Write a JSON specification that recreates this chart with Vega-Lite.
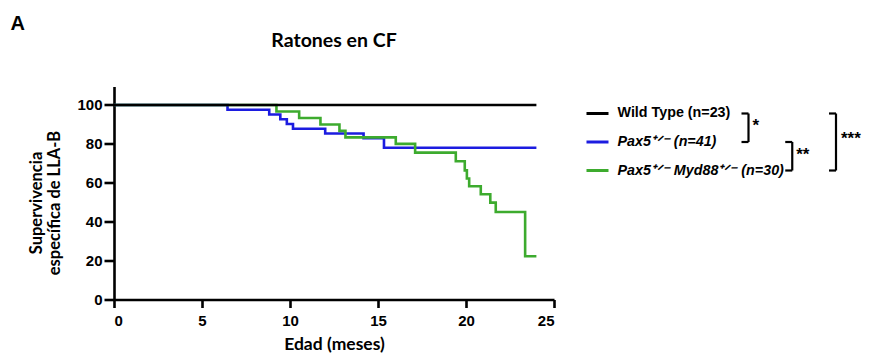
{
  "$schema": "https://vega.github.io/schema/vega-lite/v6.json",
  "background": "white",
  "padding": {"left": 10, "top": 13.5, "right": 0, "bottom": 0},
  "title": {"text": "A", "anchor": "start", "font": "Liberation Sans", "fontSize": 20, "fontWeight": "bold", "color": "black", "dx": -18, "offset": -3},
  "datasets": {
    "survival": [
      {"group": "Pax5", "t": 0, "s": 100},
      {"group": "Pax5", "t": 6.45, "s": 97.56},
      {"group": "Pax5", "t": 8.82, "s": 95.12},
      {"group": "Pax5", "t": 9.45, "s": 92.68},
      {"group": "Pax5", "t": 9.82, "s": 90.24},
      {"group": "Pax5", "t": 10.17, "s": 87.8},
      {"group": "Pax5", "t": 12.0, "s": 85.37},
      {"group": "Pax5", "t": 14.18, "s": 82.93},
      {"group": "Pax5", "t": 15.34, "s": 78.05},
      {"group": "Pax5", "t": 24, "s": 78.05},
      {"group": "Pax5 Myd88", "t": 0, "s": 100},
      {"group": "Pax5 Myd88", "t": 9.23, "s": 96.67},
      {"group": "Pax5 Myd88", "t": 10.52, "s": 93.33},
      {"group": "Pax5 Myd88", "t": 11.73, "s": 90},
      {"group": "Pax5 Myd88", "t": 12.81, "s": 86.67},
      {"group": "Pax5 Myd88", "t": 13.15, "s": 83.33},
      {"group": "Pax5 Myd88", "t": 16.01, "s": 80},
      {"group": "Pax5 Myd88", "t": 17.11, "s": 75.5},
      {"group": "Pax5 Myd88", "t": 19.42, "s": 71.1},
      {"group": "Pax5 Myd88", "t": 19.93, "s": 66.4},
      {"group": "Pax5 Myd88", "t": 20.05, "s": 62.2},
      {"group": "Pax5 Myd88", "t": 20.18, "s": 58.2},
      {"group": "Pax5 Myd88", "t": 20.84, "s": 54.1},
      {"group": "Pax5 Myd88", "t": 21.38, "s": 49.8},
      {"group": "Pax5 Myd88", "t": 21.69, "s": 45.0},
      {"group": "Pax5 Myd88", "t": 23.36, "s": 22.2},
      {"group": "Pax5 Myd88", "t": 24, "s": 22.2},
      {"group": "Wild Type", "t": 0, "s": 100},
      {"group": "Wild Type", "t": 24, "s": 100}
    ],
    "groups": [
      {"group": "Wild Type", "label": "Wild Type (n=23)"},
      {"group": "Pax5", "label": "Pax5⁺ᐟ⁻ (n=41)"},
      {"group": "Pax5 Myd88", "label": " Pax5⁺ᐟ⁻ Myd88⁺ᐟ⁻ (n=30)"}
    ],
    "comparisons": [
      {"g1": "Wild Type", "g2": "Pax5", "level": 1, "sig": "*"},
      {"g1": "Pax5", "g2": "Pax5 Myd88", "level": 2, "sig": "**"},
      {"g1": "Wild Type", "g2": "Pax5 Myd88", "level": 3, "sig": "***"}
    ]
  },
  "spacing": 10,
  "bounds": "flush",
  "hconcat": [
    {
      "width": 440,
      "height": 213,
      "title": {"text": "Ratones en CF", "font": "Lato", "fontSize": 19.5, "fontWeight": "bold", "color": "black", "offset": 35},
      "data": {"name": "survival"},
      "mark": {"type": "line", "interpolate": "step-after", "strokeWidth": 2.6},
      "encoding": {
        "x": {
          "field": "t", "type": "quantitative",
          "scale": {"domain": [0, 25], "nice": false, "zero": true},
          "axis": {
            "values": [0, 5, 10, 15, 20, 25], "grid": false,
            "domainColor": "black", "domainWidth": 2.6, "tickColor": "black", "tickWidth": 2.6, "tickSize": 8,
            "labelFont": "Liberation Sans", "labelFontWeight": "bold", "labelFontSize": 15, "labelColor": "black", "labelPadding": 6,
            "title": "Edad (meses)", "titleFont": "Lato", "titleFontSize": 17.5, "titleFontWeight": "bold", "titleColor": "black", "titlePadding": 7
          }
        },
        "y": {
          "field": "s", "type": "quantitative",
          "scale": {"domain": [0, 109.5], "nice": false},
          "axis": {
            "values": [0, 20, 40, 60, 80, 100], "grid": false,
            "domainColor": "black", "domainWidth": 2.6, "tickColor": "black", "tickWidth": 2.6, "tickSize": 10,
            "labelFont": "Liberation Sans", "labelFontWeight": "bold", "labelFontSize": 15, "labelColor": "black", "labelPadding": 2,
            "title": ["Supervivencia", "específica de LLA-B"], "titleFont": "Lato", "titleFontSize": 16.5, "titleFontWeight": "bold", "titleColor": "black", "titlePadding": 14, "titleY": 116
          }
        },
        "color": {
          "field": "group", "type": "nominal",
          "scale": {"domain": ["Pax5", "Pax5 Myd88", "Wild Type"], "range": ["#1c1ce0", "#3dab2e", "#000000"]},
          "legend": null
        }
      }
    },
    {
      "width": 300,
      "height": 111,
      "layer": [
        {
          "data": {"name": "groups"},
          "mark": {"type": "rule", "strokeWidth": 3},
          "encoding": {
            "x": {"datum": -2.703, "type": "quantitative", "scale": {"domain": [-3.217, 3.64], "nice": false, "zero": false}, "axis": null},
            "x2": {"datum": -2.2},
            "y": {"field": "group", "type": "nominal", "scale": {"type": "point", "domain": ["Wild Type", "Pax5", "Pax5 Myd88"], "padding": 0.947}, "axis": null},
            "color": {"field": "group", "type": "nominal", "scale": {"domain": ["Pax5", "Pax5 Myd88", "Wild Type"], "range": ["#1c1ce0", "#3dab2e", "#000000"]}, "legend": null}
          }
        },
        {
          "data": {"name": "groups"},
          "transform": [{"filter": "datum.group === 'Wild Type'"}],
          "mark": {"type": "text", "align": "left", "baseline": "middle", "font": "Liberation Sans", "fontSize": 14.3, "fontWeight": "bold", "color": "black"},
          "encoding": {
            "x": {"datum": -1.994, "type": "quantitative"},
            "y": {"field": "group", "type": "nominal"},
            "text": {"field": "label"}
          }
        },
        {
          "data": {"name": "groups"},
          "transform": [{"filter": "datum.group !== 'Wild Type'"}],
          "mark": {"type": "text", "align": "left", "baseline": "middle", "font": "Liberation Sans", "fontSize": 14.3, "fontWeight": "bold", "fontStyle": "italic", "color": "black"},
          "encoding": {
            "x": {"datum": -1.994, "type": "quantitative"},
            "y": {"field": "group", "type": "nominal"},
            "text": {"field": "label"}
          }
        },
        {
          "data": {"name": "comparisons"},
          "mark": {"type": "rule", "strokeWidth": 2.2, "color": "black"},
          "encoding": {
            "x": {"field": "level", "type": "quantitative"},
            "y": {"field": "g1", "type": "nominal"},
            "y2": {"field": "g2"}
          }
        },
        {
          "data": {"name": "comparisons"},
          "mark": {"type": "tick", "orient": "horizontal", "size": 7, "thickness": 2.2, "xOffset": -3.5, "color": "black", "opacity": 1},
          "encoding": {
            "x": {"field": "level", "type": "quantitative"},
            "y": {"field": "g1", "type": "nominal"}
          }
        },
        {
          "data": {"name": "comparisons"},
          "mark": {"type": "tick", "orient": "horizontal", "size": 7, "thickness": 2.2, "xOffset": -3.5, "color": "black", "opacity": 1},
          "encoding": {
            "x": {"field": "level", "type": "quantitative"},
            "y": {"field": "g2", "type": "nominal"}
          }
        },
        {
          "data": {"name": "comparisons"},
          "transform": [{"filter": "datum.level < 3"}],
          "mark": {"type": "text", "align": "left", "baseline": "middle", "font": "Liberation Sans", "fontSize": 17, "fontWeight": "bold", "color": "black", "dx": 4, "dy": 13},
          "encoding": {
            "x": {"field": "level", "type": "quantitative"},
            "y": {"field": "g1", "type": "nominal"},
            "text": {"field": "sig"}
          }
        },
        {
          "data": {"name": "comparisons"},
          "transform": [{"filter": "datum.level === 3"}],
          "mark": {"type": "text", "align": "left", "baseline": "middle", "font": "Liberation Sans", "fontSize": 17, "fontWeight": "bold", "color": "black", "dx": 5, "dy": 26},
          "encoding": {
            "x": {"field": "level", "type": "quantitative"},
            "y": {"field": "g1", "type": "nominal"},
            "text": {"field": "sig"}
          }
        }
      ]
    }
  ],
  "config": {"view": {"stroke": null}}
}
